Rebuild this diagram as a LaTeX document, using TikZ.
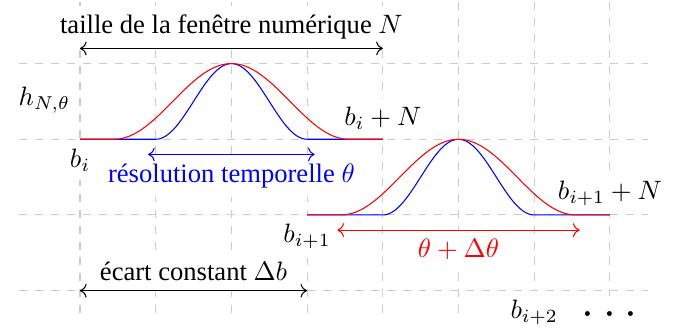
\documentclass[tikz,border=0pt]{standalone}
\usepackage{fontspec}
\setmainfont{Liberation Serif}
\usetikzlibrary{arrows.meta,positioning}

\begin{document}
\begin{tikzpicture}[>=To, grille/.style={gray!40,dashed}, lab/.style={fill=white}, cote/.style={<->}]
\useasboundingbox (-1.057,-0.506) rectangle (7.834,3.84);
\draw[grille] (-0.8,-0.3) grid (7.5,3.9);
% bornes et cotes
\coordinate (tA) at (0,3.2); \coordinate (tB) at (4,3.2);
\coordinate (rA) at (0.9,1.8); \coordinate (rB) at (3.1,1.8);
\coordinate (dA) at (3.4,0.8); \coordinate (dB) at (6.6,0.8);
\coordinate (eA) at (0,0); \coordinate (eB) at (3,0);
\node[lab,above] (ltaille) at (2,3.2) {taille de la fenêtre numérique $N$};
\node[lab,below,text=blue] (lres) at (2,1.8) {résolution temporelle $\theta$};
\node[lab,below,text=red] (ldelta) at (5,0.8) {$\theta+\Delta\theta$};
\node[lab,above] (lecart) at (1.5,0) {écart constant $\Delta b$};
\node[lab,below] (lbi) at (0,2) {$b_i$};
\node[lab,above] (lbiN) at (4,2) {$b_i+N$};
\node[lab,below] (lbj) at (3,1) {$b_{i+1}$};
\node[lab,above] (lbjN) at (7,1) {$b_{i+1}+N$};
\node[lab,below] (lbk) at (6,0) {$b_{i+2}$};
\node[lab] (points) at (7,-0.32) {\LARGE$\cdotp\kern0.4pt\cdotp\kern0.4pt\cdotp$};
\node (lh) at (-0.47,2.52) {$h_{N,\theta}$};
% fenetres
\foreach \s in {0,1}{
\begin{scope}[shift={(3*\s,-\s)}]
\draw[blue] (0,2) -- (1,2) -- plot[domain=1:3,samples=60] (\x,{2.5-0.5*cos(180*(\x-1))}) -- (4,2);
\draw[red] (0,2) -- (0.45,2) -- plot[domain=0.45:3.55,samples=60] (\x,{2.5-0.5*cos(360*(\x-0.45)/3.1)}) -- (4,2);
\end{scope}}
\draw[cote] (tA) -- (tB);
\draw[cote,blue] (rA) -- (rB);
\draw[cote,red] (dA) -- (dB);
\draw[cote] (eA) -- (eB);
\end{tikzpicture}
\end{document}
